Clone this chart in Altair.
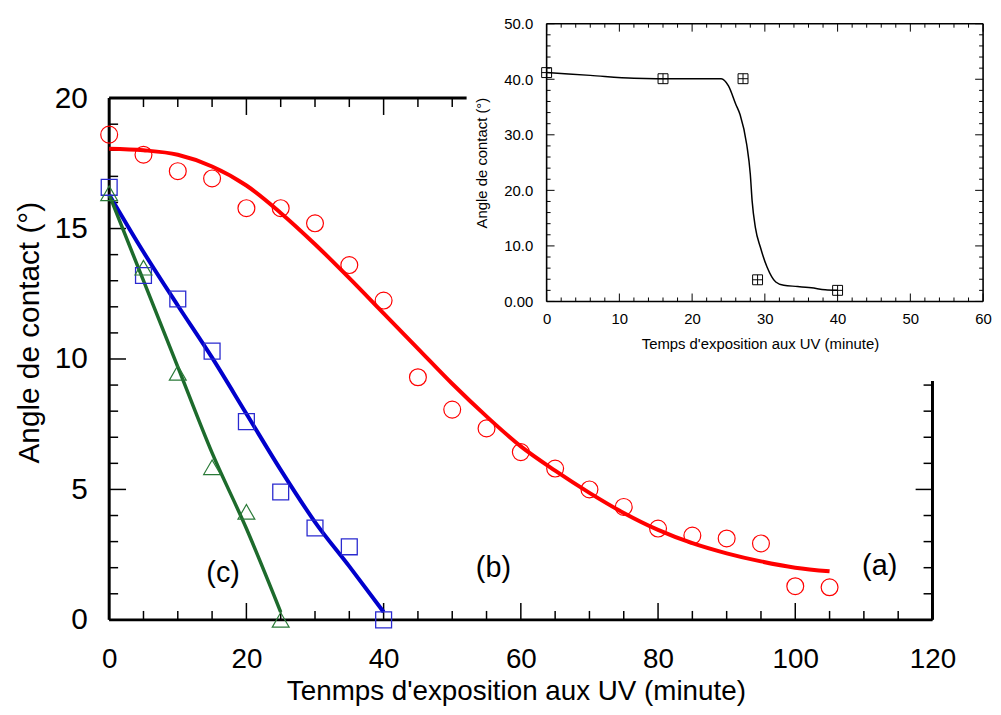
import altair as alt
import pandas as pd

# ---------------- main chart data ----------------
a_time = [0, 5, 10, 15, 20, 25, 30, 35, 40, 45, 50, 55, 60, 65, 70, 75, 80, 85, 90, 95, 100, 105]
a_angle = [18.6, 17.83, 17.2, 16.92, 15.78, 15.78, 15.2, 13.6, 12.24, 9.3, 8.06, 7.34,
           6.43, 5.8, 5.0, 4.33, 3.5, 3.23, 3.12, 2.93, 1.29, 1.25]
a_fit_time = [0, 5, 10, 15, 20, 25, 30, 35, 40, 45, 50, 55, 60, 65, 70, 75, 80, 85, 90, 95, 100, 105]
a_fit_angle = [18.06, 18.0, 17.83, 17.38, 16.65, 15.6, 14.4, 13.1, 11.75, 10.4, 9.05, 7.8,
               6.65, 5.72, 4.87, 4.1, 3.45, 2.94, 2.55, 2.24, 2.0, 1.86]

b_time = [0, 5, 10, 15, 20, 25, 30, 35, 40]
b_angle = [16.58, 13.2, 12.3, 10.3, 7.6, 4.9, 3.52, 2.8, 0.0]
b_fit_time = [0, 5, 10, 15, 20, 25, 30, 35, 40]
b_fit_angle = [16.3, 14.1, 12.05, 10.05, 7.9, 5.75, 3.75, 2.05, 0.3]

c_time = [0, 5, 10, 15, 20, 25]
c_angle = [16.35, 13.5, 9.47, 5.85, 4.14, 0.0]
c_fit_time = [0, 5, 10, 15, 20, 25]
c_fit_angle = [16.3, 13.0, 9.7, 6.4, 3.5, 0.3]

label_text = ["(a)", "(b)", "(c)"]
label_time = [112.3, 56.0, 16.6]
label_angle = [2.05, 2.0, 1.8]

main_x_ticks = [0, 20, 40, 60, 80, 100, 120]
main_y_ticks = [0, 5, 10, 15, 20]

# ---------------- inset data ----------------
ins_time = [0, 16, 27, 29, 40]
ins_angle = [41.2, 40.1, 40.1, 3.9, 2.0]
ins_fit_time = [0, 6, 12, 18, 24, 25, 26, 26.6, 27.5, 28, 28.25, 28.7, 29.4, 30.3, 31.5, 32.6,
                34.5, 36.4, 38.3, 40]
ins_fit_angle = [41.2, 40.7, 40.2, 40.1, 40.1, 38.8, 35.5, 33.6, 28.3, 22.9, 18.1, 13.3, 9.7,
                 6.2, 3.5, 2.9, 2.7, 2.45, 2.1, 2.0]
ins_x_ticks = [0, 10, 20, 30, 40, 50, 60]
ins_y_ticks = [0, 10, 20, 30, 40, 50]

# panel extents (data units)
X_MAX, Y_MAX = 120, 20
IX_MAX, IY_MAX = 60, 50
# white backing of the inset, in inset units
PATCH = dict(x=-11.0, x2=66.0, y=-14.3, y2=56.0)

W, H = 830, 526
INS_XR = [441, 881]
INS_YR = [205, -75]

FONT = "Liberation Sans"
RED, BLUE, GREEN = "#ff0000", "#0000cc", "#1d6b2c"

xs = alt.Scale(domain=[0, X_MAX], nice=False, zero=False)
ys = alt.Scale(domain=[0, Y_MAX], nice=False, zero=False)
ixs = alt.Scale(domain=[0, IX_MAX], range=INS_XR, nice=False, zero=False)
iys = alt.Scale(domain=[0, IY_MAX], range=INS_YR, nice=False, zero=False)


def df(**kw):
    return pd.DataFrame(kw)


# ---------------- main panel ----------------
x_axis = alt.Axis(values=main_x_ticks, ticks=False, domain=False, grid=False,
                  labelFontSize=28, labelPadding=26, labelFlush=False, labelOverlap=False,
                  title="Tenmps d'exposition aux UV (minute)", titleFontSize=28,
                  titleFontWeight="normal", titleX=410, titleY=80,
                  titleBaseline="alphabetic", titleAlign="center")
y_axis = alt.Axis(values=main_y_ticks, ticks=False, domain=False, grid=False,
                  labelFontSize=30, labelPadding=22, labelOverlap=False,
                  title="Angle de contact (°)", titleFontSize=30, titleFontWeight="normal",
                  titleX=-71, titleY=236, titleAngle=270, titleBaseline="alphabetic",
                  titleAlign="center")

base_main = alt.Chart(df(t=a_time, v=a_angle))

frame_h = alt.Chart(df(y=[0, Y_MAX], x=[0, 0], x2=[X_MAX, X_MAX])).mark_rule(
    color="black", strokeWidth=3).encode(
    x=alt.X("x:Q", scale=xs, axis=x_axis), x2="x2:Q", y=alt.Y("y:Q", scale=ys, axis=y_axis))
frame_v = alt.Chart(df(x=[0, X_MAX], y=[0, 0], y2=[Y_MAX, Y_MAX])).mark_rule(
    color="black", strokeWidth=3).encode(x="x:Q", y="y:Q", y2="y2:Q")

x_minor = [v for v in range(0, X_MAX + 1, 5) if v % 20]
x_major = [v for v in range(0, X_MAX + 1, 20)]
y_minor = [v for v in range(0, Y_MAX + 1) if v % 5]
y_major = [v for v in range(0, Y_MAX + 1, 5)]


def xticks(vals, at, length, scale_x, scale_y, sw):
    return alt.Chart(df(x=vals, y=[at] * len(vals))).mark_rule(
        color="black", strokeWidth=sw, y2Offset=length).encode(
        x=alt.X("x:Q", scale=scale_x), y=alt.Y("y:Q", scale=scale_y), y2="y:Q")


def yticks(vals, at, length, scale_x, scale_y, sw):
    return alt.Chart(df(y=vals, x=[at] * len(vals))).mark_rule(
        color="black", strokeWidth=sw, x2Offset=length).encode(
        y=alt.Y("y:Q", scale=scale_y), x=alt.X("x:Q", scale=scale_x), x2="x:Q")


main_ticks = [
    xticks(x_major, 0, -17, xs, ys, 1.5), xticks(x_minor, 0, -9, xs, ys, 1.5),
    xticks(x_major, Y_MAX, 17, xs, ys, 1.5), xticks(x_minor, Y_MAX, 9, xs, ys, 1.5),
    yticks(y_major, 0, 17, xs, ys, 1.5), yticks(y_minor, 0, 9, xs, ys, 1.5),
    yticks(y_major, X_MAX, -17, xs, ys, 1.5), yticks(y_minor, X_MAX, -9, xs, ys, 1.5),
]

line_a = alt.Chart(df(t=a_fit_time, v=a_fit_angle)).mark_line(
    color=RED, strokeWidth=4, interpolate="monotone").encode(x="t:Q", y="v:Q")
line_b = alt.Chart(df(t=b_fit_time, v=b_fit_angle)).mark_line(
    color=BLUE, strokeWidth=4, interpolate="monotone").encode(x="t:Q", y="v:Q")
line_c = alt.Chart(df(t=c_fit_time, v=c_fit_angle)).mark_line(
    color=GREEN, strokeWidth=3.5, interpolate="monotone").encode(x="t:Q", y="v:Q")

pts_a = base_main.mark_point(shape="circle", filled=False, color=RED, size=289,
                             strokeWidth=1.2, opacity=1).encode(x="t:Q", y="v:Q")
pts_b = alt.Chart(df(t=b_time, v=b_angle)).mark_point(
    shape="square", filled=False, color="#2a2ad0", size=256, strokeWidth=1.3,
    opacity=1).encode(x="t:Q", y="v:Q")
pts_c = alt.Chart(df(t=c_time, v=c_angle)).mark_point(
    shape="triangle-up", filled=False, color="#2a7a38", size=289, strokeWidth=1.2,
    opacity=1).encode(x="t:Q", y="v:Q")

labels = alt.Chart(df(t=label_time, v=label_angle, s=label_text)).mark_text(
    fontSize=29, font=FONT, color="black", baseline="middle", align="center").encode(
    x="t:Q", y="v:Q", text="s:N")

main = alt.layer(frame_h, frame_v, *main_ticks, line_a, line_b, line_c,
                 pts_a, pts_b, pts_c, labels)

# ---------------- inset panel ----------------
ix_axis = alt.Axis(values=ins_x_ticks, orient="bottom", offset=INS_YR[0] - H, ticks=False,
                   domain=False, grid=False, labelFontSize=15, labelPadding=10,
                   labelFlush=False, labelOverlap=False, zindex=2,
                   title="Temps d'exposition aux UV (minute)", titleFontSize=15,
                   titleFontWeight="normal", titleX=656, titleY=47,
                   titleBaseline="alphabetic", titleAlign="center")
iy_axis = alt.Axis(values=ins_y_ticks, orient="left", offset=-INS_XR[0], ticks=False,
                   domain=False, grid=False, labelFontSize=15, labelPadding=14,
                   labelOverlap=False, zindex=2,
                   labelExpr="datum.value == 0 ? '0.00' : format(datum.value, '.1f')",
                   title="Angle de contact (°)", titleFontSize=15, titleFontWeight="normal",
                   titleX=-61, titleY=65, titleAngle=270, titleBaseline="alphabetic",
                   titleAlign="center")

patch = alt.Chart(df(x=[PATCH["x"]], x2=[PATCH["x2"]], y=[PATCH["y"]], y2=[PATCH["y2"]])).mark_rect(
    color="white", opacity=1).encode(
    x=alt.X("x:Q", scale=ixs, axis=ix_axis), x2="x2:Q",
    y=alt.Y("y:Q", scale=iys, axis=iy_axis), y2="y2:Q")

iframe_h = alt.Chart(df(y=[0, IY_MAX], x=[0, 0], x2=[IX_MAX, IX_MAX])).mark_rule(
    color="black", strokeWidth=1.6).encode(x="x:Q", x2="x2:Q", y="y:Q")
iframe_v = alt.Chart(df(x=[0, IX_MAX], y=[0, 0], y2=[IY_MAX, IY_MAX])).mark_rule(
    color="black", strokeWidth=1.6).encode(x="x:Q", y="y:Q", y2="y2:Q")

ix_minor = [v for v in range(0, IX_MAX + 1, 2) if v % 10]
ix_major = [v for v in range(0, IX_MAX + 1, 10)]
iy_minor = [v for v in range(0, IY_MAX + 1, 2) if v % 10]
iy_major = [v for v in range(0, IY_MAX + 1, 10)]

ins_ticks = [
    xticks(ix_major, 0, -8, ixs, iys, 1), xticks(ix_minor, 0, -4, ixs, iys, 1),
    xticks(ix_major, IY_MAX, 8, ixs, iys, 1), xticks(ix_minor, IY_MAX, 4, ixs, iys, 1),
    yticks(iy_major, 0, 8, ixs, iys, 1), yticks(iy_minor, 0, 4, ixs, iys, 1),
    yticks(iy_major, IX_MAX, -8, ixs, iys, 1), yticks(iy_minor, IX_MAX, -4, ixs, iys, 1),
]

ins_line = alt.Chart(df(t=ins_fit_time, v=ins_fit_angle)).mark_line(
    color="black", strokeWidth=1.5, interpolate="monotone").encode(x="t:Q", y="v:Q")
ins_pts = alt.Chart(df(t=ins_time, v=ins_angle)).mark_point(
    shape="M-1,-1H1V1H-1ZM0,-1V1M-1,0H1", filled=False, color="black", size=100,
    strokeWidth=1, opacity=1).encode(x="t:Q", y="v:Q")

inset = alt.layer(patch, iframe_h, iframe_v, *ins_ticks, ins_line, ins_pts)

chart = alt.layer(main, inset).resolve_scale(x="independent", y="independent").properties(
    width=W, height=H,
    autosize=alt.AutoSizeParams(type="none"),
    padding={"left": 102, "top": 88, "right": 61, "bottom": 85},
).configure_view(stroke=None).configure_axis(
    labelFont=FONT, titleFont=FONT, labelColor="black", titleColor="black"
).configure(background="white")

chart.save("out.html", embed_options={"renderer": "svg", "actions": False})
